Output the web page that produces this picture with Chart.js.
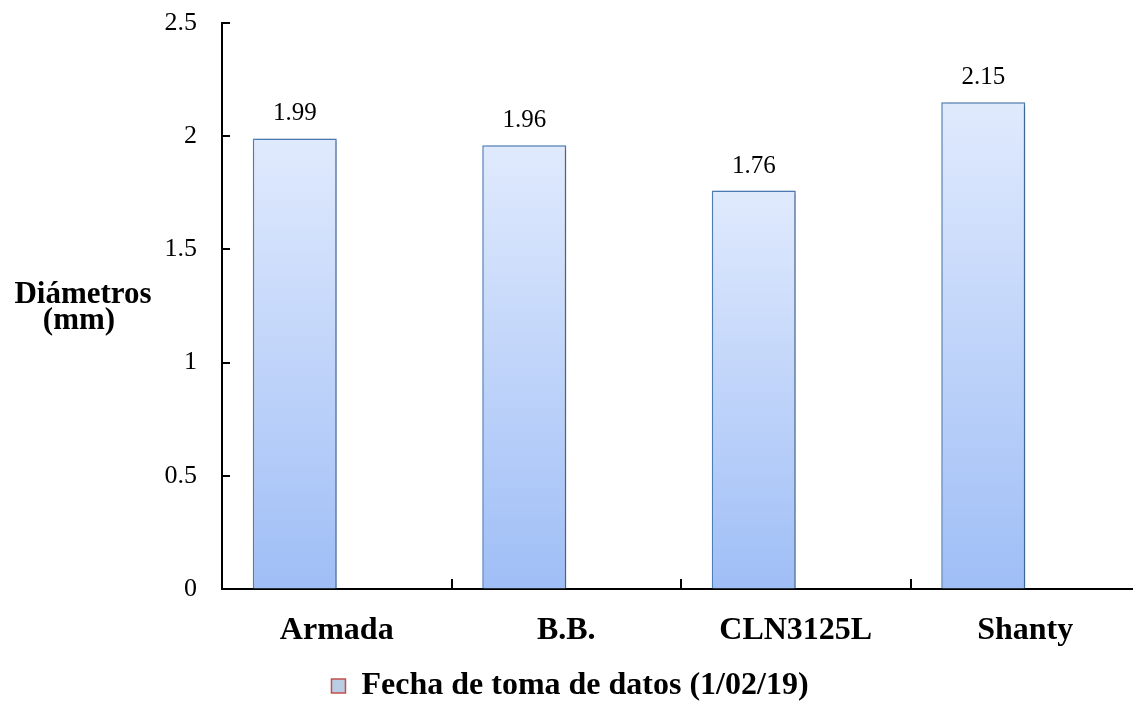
<!DOCTYPE html>
<html>
<head>
    <title>Diámetros</title>
    <script src="https://cdn.jsdelivr.net/npm/chart.js"></script>
    <style>
        html, body {
            margin: 0;
            padding: 0;
            background-color: white;
            overflow: hidden; /* chart is a bit wider than the window, like the original */
        }

        .chart-box {
            width: 1150px;
            height: 712px;
        }
    </style>
</head>
<body>
    <div class="chart-box">
        <canvas id="diamChart" width="1150" height="712"></canvas>
    </div>

    <script>
        // data
        const categories = ['Armada', 'B.B.', 'CLN3125L', 'Shanty'];
        const diametros = [1.99, 1.96, 1.76, 2.15];
        const emptySeries = [null, null, null, null]; // second (empty) series, keeps bars left of centre
        const seriesName = 'Fecha de toma de datos (1/02/19)';
        const yTitle = ['Diámetros', '(mm)'];

        const serif = "'Liberation Serif', 'Times New Roman', serif";

        // gradient per bar, light at top, darker at base
        function barGradient(ctx) {
            const chart = ctx.chart;
            if (!chart.chartArea || ctx.raw == null) return '#c6d8fa';
            const y = chart.scales.y;
            const top = y.getPixelForValue(ctx.raw);
            const bottom = y.getPixelForValue(0);
            const g = chart.ctx.createLinearGradient(0, top, 0, bottom);
            g.addColorStop(0, '#e0eafd');
            g.addColorStop(1, '#9fbef6');
            return g;
        }

        // shadow on bars + value labels above them
        const barExtras = {
            id: 'barExtras',
            beforeDatasetsDraw(chart) {
                const c = chart.ctx;
                c.save();
                c.shadowColor = 'rgba(0,0,0,0.28)';
                c.shadowBlur = 4;
                c.shadowOffsetX = 2;
                c.shadowOffsetY = 1;
            },
            afterDatasetsDraw(chart) {
                const c = chart.ctx;
                c.restore();
                c.save();
                c.fillStyle = 'black';
                c.font = '25px ' + serif;
                c.textAlign = 'center';
                c.textBaseline = 'alphabetic';
                chart.getDatasetMeta(0).data.forEach((bar, i) => {
                    c.fillText(diametros[i].toFixed(2), bar.x, bar.y - 18);
                });
                c.restore();
            }
        };

        // inward tick marks and the horizontal y title
        const axisExtras = {
            id: 'axisExtras',
            afterDraw(chart) {
                const c = chart.ctx;
                const area = chart.chartArea;
                const x = chart.scales.x;
                const y = chart.scales.y;
                c.save();
                c.strokeStyle = 'black';
                c.lineWidth = 2;
                c.beginPath();
                y.ticks.forEach(t => {
                    const py = Math.round(y.getPixelForValue(t.value));
                    c.moveTo(area.left, py);
                    c.lineTo(area.left + 8, py);
                });
                for (let i = 1; i <= categories.length; i++) {
                    const px = Math.round((x.getPixelForValue(i - 1) + x.getPixelForValue(i)) / 2);
                    c.moveTo(px, area.bottom);
                    c.lineTo(px, area.bottom - 10);
                }
                c.stroke();

                c.fillStyle = 'black';
                c.font = 'bold 31px ' + serif;
                c.textAlign = 'center';
                c.textBaseline = 'alphabetic';
                c.fillText(yTitle[0], 83, 303);
                c.fillText(yTitle[1], 79, 329);
                c.restore();
            }
        };

        new Chart(document.getElementById('diamChart'), {
            type: 'bar',
            data: {
                labels: categories,
                datasets: [{
                    label: seriesName,
                    data: diametros,
                    backgroundColor: barGradient,
                    borderColor: '#4f81bd',
                    borderWidth: 1.5,
                    categoryPercentage: 0.732,
                    barPercentage: 1.0
                }, {
                    label: 'vacío',
                    data: emptySeries,
                    backgroundColor: '#c0504d',
                    categoryPercentage: 0.732,
                    barPercentage: 1.0
                }]
            },
            options: {
                responsive: false,
                animation: false,
                layout: {
                    padding: { top: 23, right: 10, left: 0, bottom: 0 }
                },
                scales: {
                    x: {
                        offset: true,
                        grid: { display: false },
                        border: { display: true, color: 'black', width: 2 },
                        ticks: {
                            color: 'black',
                            padding: 15,
                            font: { family: serif, size: 32, weight: 'bold' }
                        },
                        afterFit(scale) { scale.height = 81; }
                    },
                    y: {
                        min: 0,
                        max: 2.5,
                        // invisible outward ticks only to space the labels; real ticks point inward (plugin)
                        grid: { drawOnChartArea: false, tickLength: 18, tickColor: 'rgba(0,0,0,0)' },
                        border: { display: true, color: 'black', width: 2 },
                        ticks: {
                            stepSize: 0.5,
                            color: 'black',
                            padding: 7,
                            font: { family: serif, size: 26 },
                            callback: v => String(+v.toFixed(1))
                        },
                        afterFit(scale) { scale.width = 222; }
                    }
                },
                plugins: {
                    legend: {
                        display: true,
                        position: 'bottom',
                        labels: {
                            color: 'black',
                            padding: 0,
                            boxWidth: 14,
                            boxHeight: 14,
                            font: { family: serif, size: 32, weight: 'bold' },
                            filter: item => item.datasetIndex === 0,
                            generateLabels: chart => [{
                                text: seriesName,
                                fillStyle: '#b9cde5',
                                strokeStyle: '#c0504d',
                                lineWidth: 1.5,
                                datasetIndex: 0,
                                hidden: false
                            }]
                        }
                    },
                    tooltip: { enabled: false }
                }
            },
            plugins: [barExtras, axisExtras]
        });
    </script>
</body>
</html>
